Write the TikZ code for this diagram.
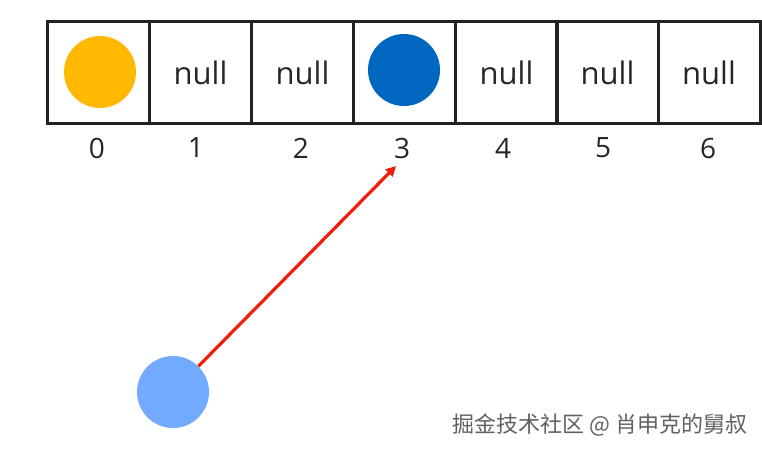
\documentclass[tikz,border=0pt]{standalone}
\usepackage{fontspec}
\setmainfont{Open Sans}
\newfontfamily\cjk{Noto Sans CJK SC}
\usetikzlibrary{arrows.meta}
\definecolor{cellline}{HTML}{222222}
\definecolor{amber}{HTML}{FFB900}
\definecolor{deepblue}{HTML}{0067C0}
\definecolor{lightblue}{HTML}{72AAFF}
\definecolor{arrowred}{HTML}{F01E0A}
\tikzset{
  cell/.style={draw=cellline, line width=3pt, minimum width=102pt, minimum height=101pt, inner sep=0pt, font=\fontsize{31}{32}\selectfont, text=black!85},
  idx/.style={font=\fontsize{28}{30}\selectfont, text=black!85, inner sep=0pt},
  ball/.style={circle, minimum size=72pt, inner sep=0pt},
  pointer/.style={draw=arrowred, line width=3.2pt, -{Triangle[length=10pt,width=10pt]}},
}
\begin{document}
\begin{tikzpicture}[x=1pt,y=-1pt]
\useasboundingbox (0,0) rectangle (762,452);
\fill[white] (0,0) rectangle (762,452);
% stub of next cell
\draw[cellline, line width=3pt] (760,22) -- (764,22) (760,123) -- (764,123);
\node[cell] (c0) at (98.5,72.5) {};
\node[cell] (c1) at (200.5,72.5) {null};
\node[cell] (c2) at (302.5,72.5) {null};
\node[cell] (c3) at (404.5,72.5) {};
\node[cell] (c4) at (506.5,72.5) {null};
\node[cell] (c5) at (607.5,72.5) {null};
\node[cell] (c6) at (709,72.5) {null};
\node[ball, fill=amber] (b0) at (100,72) {};
\node[ball, fill=deepblue] (b3) at (404,70) {};
\node[idx] (i0) at (97,148) {0};
\node[idx] (i1) at (196,148) {1};
\node[idx] (i2) at (301,148) {2};
\node[idx] (i3) at (402,148) {3};
\node[idx] (i4) at (503,148) {4};
\node[idx] (i5) at (603,148) {5};
\node[idx] (i6) at (708,148) {6};
\node[ball, fill=lightblue] (p) at (173,392) {};
\coordinate (tip) at (396,166);
\draw[pointer] (p) -- (tip);
\node[font=\cjk\fontsize{22}{24}\selectfont, text=black!62, inner sep=0pt] (wm) at (600,425) {掘金技术社区 @ 肖申克的舅叔};
\end{tikzpicture}
\end{document}
